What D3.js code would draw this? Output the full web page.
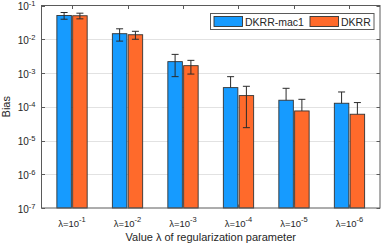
<!DOCTYPE html>
<html>
<head>
<meta charset="utf-8">
<script src="https://cdn.jsdelivr.net/npm/d3@7"></script>
<style>
    body { margin: 0; background: #fff; }
    text { font-family: "Liberation Sans", Arial, sans-serif; fill: #262626; }
</style>
</head>
<body>
<div id="chart"></div>
<script>
// data: mean bias and std (error bar half-length, linear)
let categories = [1, 2, 3, 4, 5, 6];
let lambdaExp = [-1, -2, -3, -4, -5, -6];
let seriesNames = ['DKRR-mac1', 'DKRR'];
let macMean = [0.0506, 0.0146, 0.00217, 0.000369, 0.000156, 0.000127];
let macStd = [0.0114, 0.0058, 0.00139, 0.00041, 0.000196, 0.000147];
let dkrrMean = [0.0497, 0.0136, 0.00165, 0.000214, 0.0000751, 0.00006];
let dkrrStd = [0.0095, 0.0036, 0.00072, 0.00019, 0.000091, 0.000073];
let yTickExp = [-7, -6, -5, -4, -3, -2, -1];

const WIDTH = 382;
const HEIGHT = 245;
const BLUE = '#169bff';
const ORANGE = '#ff6a2b';
const AXIS_COLOR = '#5a5a5a';

let margin = { left: 41.5, right: 2, top: 5.5, bottom: 37 };

let svg = d3.select('#chart').append('svg')
    .attr('width', WIDTH)
    .attr('height', HEIGHT);

let x = d3.scaleLinear()
    .domain([0.45, 6.55])
    .range([margin.left, WIDTH - margin.right]);
let y = d3.scaleLog()
    .domain([1e-7, 1e-1])
    .range([HEIGHT - margin.bottom, margin.top]);

let barWidth = 14.5;
let barOffset = 7.9;

// grid
svg.append('g').selectAll('line')
    .data(yTickExp.slice(1, -1))
    .join('line')
    .attr('x1', x.range()[0])
    .attr('x2', x.range()[1])
    .attr('y1', d => Math.round(y(Math.pow(10, d))) + 0.5)
    .attr('y2', d => Math.round(y(Math.pow(10, d))) + 0.5)
    .attr('stroke', '#e2e2e2')
    .attr('stroke-width', 1);

let series = [
    { name: seriesNames[0], mean: macMean, std: macStd, color: BLUE, dx: -barOffset },
    { name: seriesNames[1], mean: dkrrMean, std: dkrrStd, color: ORANGE, dx: barOffset },
];

series.forEach(s => {
    let g = svg.append('g');
    g.selectAll('rect')
        .data(categories)
        .join('rect')
        .attr('x', (d, i) => x(d) + s.dx - barWidth / 2)
        .attr('y', (d, i) => y(s.mean[i]))
        .attr('width', barWidth)
        .attr('height', (d, i) => y.range()[0] - y(s.mean[i]))
        .attr('fill', s.color)
        .attr('stroke', '#333')
        .attr('stroke-width', 0.9);
});

// error bars drawn on top (lower whisker skipped when mean - std <= 0 on log axis)
series.forEach(s => {
    let g = svg.append('g')
        .attr('stroke', '#2b2b2b')
        .attr('stroke-width', 1);
    categories.forEach((d, i) => {
        let cx = x(d) + s.dx;
        let hi = s.mean[i] + s.std[i];
        let lo = s.mean[i] - s.std[i];
        let yTop = y(hi);
        let yBot = lo > 0 ? y(lo) : y(s.mean[i]);
        g.append('line')
            .attr('x1', cx).attr('x2', cx)
            .attr('y1', yTop).attr('y2', yBot);
        g.append('line')
            .attr('x1', cx - 3.5).attr('x2', cx + 3.5)
            .attr('y1', yTop).attr('y2', yTop);
        if (lo > 0) {
            g.append('line')
                .attr('x1', cx - 3.5).attr('x2', cx + 3.5)
                .attr('y1', yBot).attr('y2', yBot);
        }
    });
});

// box and ticks
let plotLeft = x.range()[0], plotRight = x.range()[1];
let plotTop = y.range()[1], plotBottom = y.range()[0];
svg.append('rect')
    .attr('x', plotLeft).attr('y', plotTop)
    .attr('width', plotRight - plotLeft).attr('height', plotBottom - plotTop)
    .attr('fill', 'none')
    .attr('stroke', AXIS_COLOR)
    .attr('stroke-width', 1);

let ticks = svg.append('g').attr('stroke', AXIS_COLOR).attr('stroke-width', 1);
yTickExp.forEach(e => {
    let ty = Math.round(y(Math.pow(10, e))) + 0.5;
    ticks.append('line').attr('x1', plotLeft).attr('x2', plotLeft + 3.5).attr('y1', ty).attr('y2', ty);
    ticks.append('line').attr('x1', plotRight - 3.5).attr('x2', plotRight).attr('y1', ty).attr('y2', ty);
});
categories.forEach(c => {
    let tx = Math.round(x(c)) + 0.5;
    ticks.append('line').attr('x1', tx).attr('x2', tx).attr('y1', plotBottom).attr('y2', plotBottom - 3.5);
    ticks.append('line').attr('x1', tx).attr('x2', tx).attr('y1', plotTop).attr('y2', plotTop + 3.5);
});

// y tick labels
let yLabels = svg.append('g');
yTickExp.forEach(e => {
    let t = yLabels.append('text')
        .attr('x', 35.5)
        .attr('y', y(Math.pow(10, e)) + 4.5)
        .attr('text-anchor', 'end')
        .attr('font-size', 10);
    t.append('tspan').text('10');
    t.append('tspan').attr('dy', -4).attr('font-size', 7.5).text('-' + Math.abs(e));
});

// x tick labels
let xLabels = svg.append('g');
categories.forEach((c, i) => {
    let t = xLabels.append('text')
        .attr('x', x(c))
        .attr('y', 226.5)
        .attr('text-anchor', 'middle')
        .attr('font-size', 9.5);
    t.append('tspan').text('λ=10');
    t.append('tspan').attr('dy', -4.5).attr('font-size', 7.5).text('-' + Math.abs(lambdaExp[i]));
});

svg.append('text')
    .attr('x', (plotLeft + plotRight) / 2)
    .attr('y', 241)
    .attr('text-anchor', 'middle')
    .attr('font-size', 11)
    .text('Value λ of regularization parameter');

svg.append('text')
    .attr('transform', 'translate(9.5,' + ((plotTop + plotBottom) / 2) + ') rotate(-90)')
    .attr('text-anchor', 'middle')
    .attr('font-size', 11)
    .text('Bias');

// legend
let legend = svg.append('g');
legend.append('rect')
    .attr('x', 210.5).attr('y', 13.5)
    .attr('width', 163.5).attr('height', 16)
    .attr('fill', '#fff')
    .attr('stroke', AXIS_COLOR)
    .attr('stroke-width', 1);
let legendX = [214, 310];
series.forEach((s, i) => {
    legend.append('rect')
        .attr('x', legendX[i]).attr('y', 16.5)
        .attr('width', 28.5).attr('height', 10)
        .attr('fill', s.color)
        .attr('stroke', '#333')
        .attr('stroke-width', 0.9);
    legend.append('text')
        .attr('x', legendX[i] + 31)
        .attr('y', 25.5)
        .attr('font-size', 10.5)
        .text(s.name);
});
</script>
</body>
</html>
